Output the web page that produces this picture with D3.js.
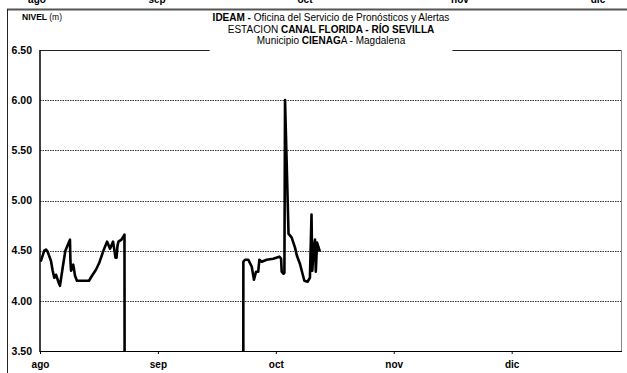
<!DOCTYPE html>
<html>
<head>
<meta charset="utf-8">
<script src="https://cdn.jsdelivr.net/npm/d3@7"></script>
<style>
body{margin:0;background:#fff;}
svg{display:block;font-family:"Liberation Sans",Arial,sans-serif;}
</style>
</head>
<body>
<div id="chart"></div>
<script>
// lecturas de nivel (m) - estacion Canal Florida
var fechas = [
  "2010-08-01 04","2010-08-02 03","2010-08-02 14","2010-08-03 00","2010-08-03 21",
  "2010-08-04 08","2010-08-04 18","2010-08-05 05","2010-08-05 22","2010-08-06 06",
  "2010-08-06 23","2010-08-07 16","2010-08-08 13","2010-08-08 21","2010-08-09 00",
  "2010-08-09 04","2010-08-09 18","2010-08-10 05","2010-08-10 17","2010-08-13 21",
  "2010-08-14 16","2010-08-15 17","2010-08-16 14","2010-08-17 12","2010-08-18 02",
  "2010-08-18 15","2010-08-19 10","2010-08-20 05","2010-08-20 14","2010-08-20 20",
  "2010-08-21 03","2010-08-21 09","2010-08-21 15","2010-08-22 10","2010-08-23 05",
  "2010-08-23 08",
  "2010-09-23 10","2010-09-23 11","2010-09-23 21","2010-09-24 18","2010-09-25 16",
  "2010-09-26 06","2010-09-26 19","2010-09-27 09","2010-09-27 16","2010-09-28 07",
  "2010-09-29 14","2010-10-01 08","2010-10-02 22","2010-10-03 09","2010-10-03 13",
  "2010-10-04 00","2010-10-04 06","2010-10-04 10","2010-10-05 08","2010-10-06 04",
  "2010-10-07 01","2010-10-07 13","2010-10-08 08","2010-10-08 21","2010-10-09 12",
  "2010-10-10 08","2010-10-10 23","2010-10-11 09","2010-10-11 14","2010-10-11 22",
  "2010-10-12 07","2010-10-12 12","2010-10-12 20","2010-10-13 14"
];
var nivel = [
  4.39,4.50,4.51,4.49,4.40,
  4.30,4.23,4.26,4.18,4.15,
  4.33,4.50,4.58,4.61,4.40,
  4.30,4.36,4.25,4.20,4.20,
  4.25,4.31,4.38,4.48,4.54,
  4.59,4.52,4.59,4.50,4.43,
  4.43,4.55,4.59,4.61,4.66,
  0,
  0,4.39,4.41,4.41,4.34,
  4.21,4.29,4.29,4.41,4.39,
  4.41,4.42,4.44,4.42,4.29,
  4.27,4.28,6.00,4.67,4.63,
  4.53,4.45,4.37,4.29,4.20,
  4.19,4.23,4.86,4.30,4.50,
  4.61,4.29,4.58,4.49
];
var yTicks = [3.5,4.0,4.5,5.0,5.5,6.0,6.5];
var xTickFechas = ["2010-08-01","2010-09-01","2010-10-02","2010-11-02","2010-12-03"];
var xTickLabels = ["ago","sep","oct","nov","dic"];
var prevTickLabels = ["ago","sep","oct","nov","dic"]; // grafico anterior (cortado)

var W = 627, H = 373;
var margin = {t:50,l:40,b:22,r:5};
var width = W-margin.l-margin.r,
    height = H-margin.t-margin.b;

var parseHora = d3.timeParse("%Y-%m-%d %H");
var parseDia = d3.timeParse("%Y-%m-%d");

var data = fechas.map(function(f,i){ return {date:parseHora(f), value:nivel[i]}; });

var svg = d3.select("#chart")
    .append("svg")
    .attr("width",W)
    .attr("height",H);

// marco exterior y restos del grafico anterior
var prevX = d3.scaleLinear().domain([0,1,2,3,4]).range([37,157,305,460,598]);
svg.selectAll(".prev_lbl")
    .data(prevTickLabels)
    .enter()
    .append("text")
    .attr("class","prev_lbl")
    .attr("x",function(d,i){return prevX(i);})
    .attr("y",3)
    .attr("text-anchor","middle")
    .style("font-size","10px")
    .style("font-weight","bold")
    .text(function(d){return d;});

svg.append("line")
    .attr("x1",7).attr("x2",W).attr("y1",9.5).attr("y2",9.5)
    .attr("stroke","#555").attr("stroke-width",2);
svg.append("line")
    .attr("x1",7.5).attr("x2",7.5).attr("y1",9).attr("y2",H)
    .attr("stroke","#222").attr("stroke-width",1);

var x = d3.scaleTime()
    .domain([parseDia("2010-08-01"),parseDia("2011-01-01")])
    .range([0,width]);
var y = d3.scaleLinear()
    .domain([3.5,6.5])
    .range([height,0]);

var g = svg.append("g")
    .attr("transform","translate("+margin.l+","+margin.t+")");

// lineas de division
g.selectAll(".grid")
    .data(yTicks.slice(1,-1))
    .enter()
    .append("line")
    .attr("class","grid")
    .attr("x1",0).attr("x2",width)
    .attr("y1",function(d){return Math.round(y(d))+0.5;})
    .attr("y2",function(d){return Math.round(y(d))+0.5;})
    .attr("stroke","#333")
    .attr("stroke-dasharray","1.5,1")
    .attr("stroke-width",1);

// borde area de trazado
g.append("line").attr("x1",0).attr("x2",width).attr("y1",0.5).attr("y2",0.5)
    .attr("stroke","#222").attr("stroke-width",1);
g.append("line").attr("x1",width-0.5).attr("x2",width-0.5).attr("y1",0).attr("y2",height)
    .attr("stroke","#888").attr("stroke-width",1);

// etiquetas eje y
g.selectAll(".ylbl")
    .data(yTicks)
    .enter()
    .append("text")
    .attr("class","ylbl")
    .attr("x",-8)
    .attr("y",function(d){return y(d);})
    .attr("dy","0.36em")
    .attr("text-anchor","end")
    .style("font-size","10.5px")
    .style("font-weight","bold")
    .text(function(d){return d3.format(".2f")(d);});

// eje x
var xAxis = d3.axisBottom(x)
    .tickValues(xTickFechas.map(parseDia))
    .tickSize(3)
    .tickFormat(function(d,i){return xTickLabels[i];});

var gx = g.append("g")
    .attr("transform","translate(0,"+height+")")
    .call(xAxis);
gx.select(".domain").remove();
gx.selectAll(".tick line").attr("stroke","#000");
gx.selectAll(".tick text")
    .attr("y",10)
    .style("font-family","Liberation Sans, Arial, sans-serif")
    .style("font-size","10px")
    .style("font-weight","bold")
    .attr("fill","#000");

// serie
g.append("clipPath").attr("id","clip")
    .append("rect").attr("x",0).attr("y",0).attr("width",width).attr("height",height);

var line = d3.line()
    .x(function(d){return x(d.date);})
    .y(function(d){return y(d.value);});

g.append("path")
    .attr("d",line(data))
    .attr("clip-path","url(#clip)")
    .attr("fill","none")
    .attr("stroke","#000")
    .attr("stroke-width",2.6)
    .attr("stroke-linejoin","round");

// ejes solidos
g.append("line").attr("x1",0).attr("x2",width).attr("y1",height+0.5).attr("y2",height+0.5)
    .attr("stroke","#000").attr("stroke-width",1);
g.append("line").attr("x1",0).attr("x2",0).attr("y1",0).attr("y2",height+1)
    .attr("stroke","#000").attr("stroke-width",1.5);

// titulo
var cx = margin.l+width/2;
var tbox = svg.append("rect").attr("fill","#fff");
var tg = svg.append("g").style("font-size","10px");

var t1 = tg.append("text").attr("x",cx).attr("y",21).attr("text-anchor","middle");
t1.append("tspan").style("font-weight","bold").text("IDEAM - ");
t1.append("tspan").text("Oficina del Servicio de Pronósticos y Alertas");

var t2 = tg.append("text").attr("x",cx).attr("y",32.5).attr("text-anchor","middle");
t2.append("tspan").text("ESTACION ");
t2.append("tspan").style("font-weight","bold").text("CANAL FLORIDA - RÍO SEVILLA");

var t3 = tg.append("text").attr("x",cx).attr("y",44).attr("text-anchor","middle");
t3.append("tspan").text("Municipio ");
t3.append("tspan").style("font-weight","bold").text("CIENAG");
t3.append("tspan").text("A - Magdalena");

var bb = tg.node().getBBox();
tbox.attr("x",bb.x-3).attr("y",bb.y).attr("width",bb.width+6).attr("height",margin.t+2-bb.y);

var nv = svg.append("text").attr("x",22).attr("y",20).style("font-size","8.5px");
nv.append("tspan").style("font-weight","bold").text("NIVEL ");
nv.append("tspan").text("(m)");
</script>
</body>
</html>
